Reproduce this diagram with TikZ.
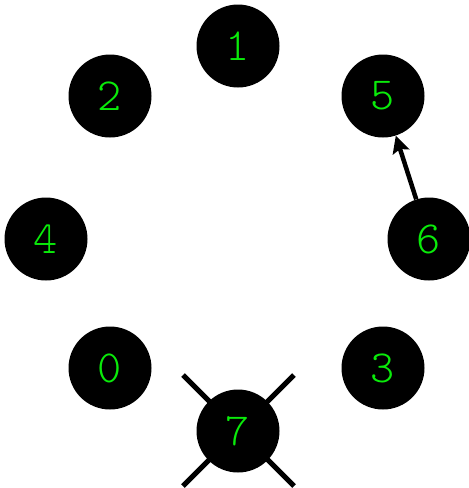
\documentclass[tikz,border=0pt]{standalone}
\usetikzlibrary{arrows.meta,calc}
\definecolor{lbl}{RGB}{10,235,10}
\tikzset{
  vtx/.style={circle,fill=black,minimum size=83pt,inner sep=0pt,
    text=lbl,font=\fontseries{l}\ttfamily\fontsize{46}{46}\selectfont},
  edge/.style={line width=4.5pt,-{Stealth[length=17pt,width=17pt,inset=3pt]}},
  crossline/.style={line width=5pt}
}
\begin{document}
\begin{tikzpicture}[x=1pt,y=-1pt]
\useasboundingbox (0,0) rectangle (469,488);
\coordinate (c7) at (238,431);
\draw[crossline] ($(c7)+(-55,-56)$) -- ($(c7)+(56,55)$);
\draw[crossline] ($(c7)+(56,-56)$) -- ($(c7)+(-55,55)$);
\node[vtx] (n1) at (238,46) {1};
\node[vtx] (n2) at (110,96) {2};
\node[vtx] (n5) at (383,96) {5};
\node[vtx] (n4) at (46,239) {4};
\node[vtx] (n6) at (429,239) {6};
\node[vtx] (n0) at (110,368) {0};
\node[vtx] (n3) at (383,368) {3};
\node[vtx] (n7) at (c7) {7};
\draw[edge] (n6) -- (n5);
\end{tikzpicture}
\end{document}
